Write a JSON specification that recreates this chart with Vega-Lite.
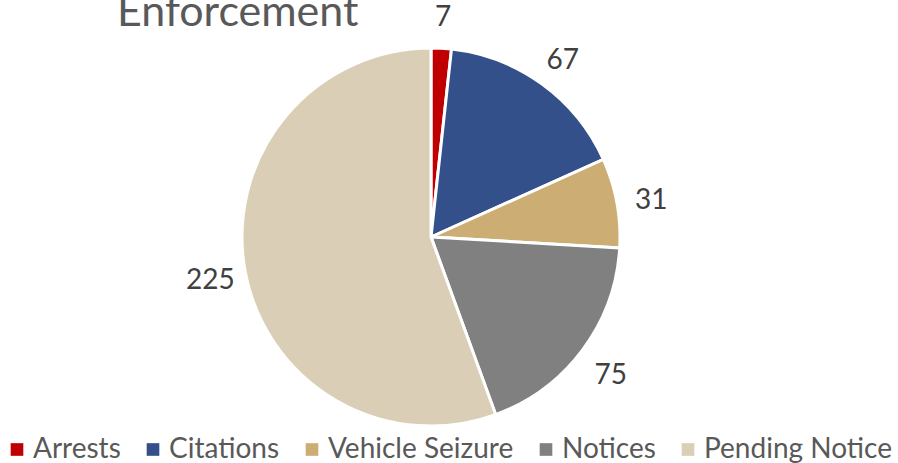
{
  "$schema": "https://vega.github.io/schema/vega-lite/v6.json",
  "width": 862,
  "height": 463,
  "autosize": "none",
  "padding": {"left": 0, "top": 5.5, "right": 36, "bottom": 0},
  "background": "white",
  "config": {"view": {"stroke": null}},
  "title": {
    "text": "Enforcement",
    "anchor": "start",
    "font": "Lato",
    "fontSize": 43,
    "fontWeight": "normal",
    "color": "#595959",
    "baseline": "alphabetic",
    "offset": 0,
    "dx": 117,
    "dy": 65
  },
  "data": {
    "values": [
      {"category": "Arrests", "value": 7, "order": 1},
      {"category": "Citations", "value": 67, "order": 2},
      {"category": "Vehicle Seizure", "value": 31, "order": 3},
      {"category": "Notices", "value": 75, "order": 4},
      {"category": "Pending Notice", "value": 225, "order": 5}
    ]
  },
  "encoding": {
    "theta": {"field": "value", "type": "quantitative", "stack": true},
    "order": {"field": "order", "type": "quantitative"},
    "color": {
      "field": "category",
      "type": "nominal",
      "sort": ["Arrests", "Citations", "Vehicle Seizure", "Notices", "Pending Notice"],
      "scale": {
        "domain": ["Arrests", "Citations", "Vehicle Seizure", "Notices", "Pending Notice"],
        "range": ["#C00000", "#34508A", "#CCAE74", "#808080", "#DACFB6"]
      },
      "legend": {
        "title": null,
        "orient": "none",
        "direction": "horizontal",
        "legendX": 3,
        "legendY": 430,
        "symbolType": "square",
        "symbolSize": 160,
        "symbolStrokeWidth": 0,
        "labelFont": "Lato",
        "labelFontSize": 28,
        "labelColor": "#595959",
        "labelOffset": 2,
        "columnPadding": 18,
        "labelLimit": 400
      }
    }
  },
  "layer": [
    {
      "mark": {"type": "arc", "outerRadius": 189, "stroke": "white", "strokeWidth": 3}
    },
    {
      "mark": {"type": "text", "radius": 224, "font": "Lato", "fontSize": 28, "dy": 5},
      "encoding": {
        "text": {"field": "value", "type": "quantitative"},
        "color": {"value": "#404040"}
      }
    }
  ]
}
